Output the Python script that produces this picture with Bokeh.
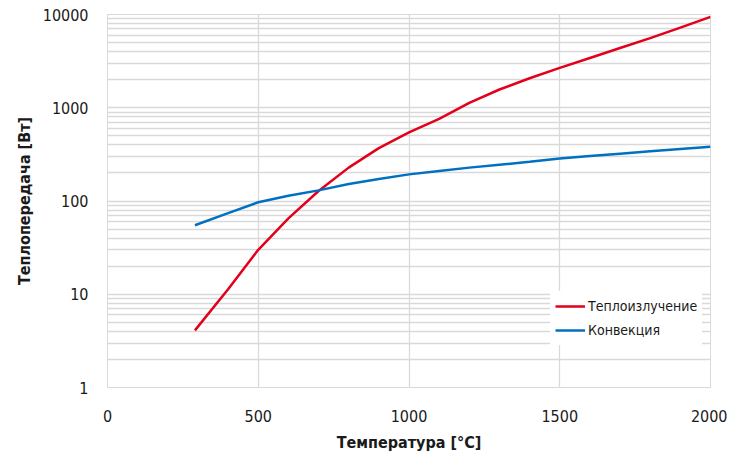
from bokeh.plotting import figure
from bokeh.models import Range1d, FixedTicker, NumeralTickFormatter, Legend, LegendItem
from bokeh.embed import file_html
from bokeh.resources import INLINE

# Data
temp = [290, 400, 500, 600, 700, 800, 900, 1000, 1100, 1200, 1300, 1400,
        1500, 1600, 1700, 1800, 1900, 2000]
radiation = [4.1, 11.3, 30, 65, 128, 228, 369, 545, 760, 1130, 1570, 2070,
             2680, 3420, 4370, 5580, 7240, 9440]
convection = [55, 74, 97, 114, 130, 152, 172, 193, 210, 228, 245, 263,
              285, 303, 322, 342, 362, 381]
x_ticks = [0, 500, 1000, 1500, 2000]
y_ticks = [1, 10, 100, 1000, 10000]
y_minor = [m * 10 ** k for k in range(4) for m in range(2, 10)]

series_names = ["Теплоизлучение", "Конвекция"]
x_title = "Температура [°C]"
y_title = "Теплопередача [Вт]"

FONT = "DejaVu Sans Condensed"
GRID = "#d9d9d9"
TEXT = "#1a1a1a"

p = figure(width=727, height=454, y_axis_type="log",
           x_range=Range1d(0, 2000), y_range=Range1d(1, 10000),
           output_backend="svg", toolbar_location=None,
           min_border_left=107, min_border_right=17,
           min_border_top=14, min_border_bottom=67)

p.outline_line_color = GRID
p.outline_line_width = 1

# grids
p.xgrid.ticker = FixedTicker(ticks=x_ticks)
p.ygrid.ticker = FixedTicker(ticks=y_ticks, minor_ticks=y_minor)
p.xgrid.grid_line_color = GRID
p.ygrid.grid_line_color = GRID
p.ygrid.minor_grid_line_color = GRID
p.xgrid.grid_line_width = 1.3
p.ygrid.grid_line_width = 1.3
p.ygrid.minor_grid_line_width = 1.3

# axes
p.xaxis.ticker = FixedTicker(ticks=x_ticks)
p.yaxis.ticker = FixedTicker(ticks=y_ticks, minor_ticks=y_minor)
p.yaxis.formatter = NumeralTickFormatter(format="0")
for ax in (p.xaxis, p.yaxis):
    ax.axis_line_color = GRID
    ax.major_tick_line_color = None
    ax.minor_tick_line_color = None
    ax.major_tick_out = 0
    ax.minor_tick_out = 0
    ax.major_label_text_font = FONT
    ax.major_label_text_font_size = "16px"
    ax.major_label_text_color = TEXT
    ax.axis_label_text_font = FONT
    ax.axis_label_text_font_size = "16px"
    ax.axis_label_text_font_style = "bold"
    ax.axis_label_text_color = TEXT
p.xaxis.axis_label = x_title
p.yaxis.axis_label = y_title
p.xaxis.major_label_standoff = 22
p.yaxis.major_label_standoff = 19
p.xaxis.axis_label_standoff = 8
p.yaxis.axis_label_standoff = 6

r1 = p.line(temp, radiation, line_color="#e3001b", line_width=2.5)
r2 = p.line(temp, convection, line_color="#0070c0", line_width=2.5)

legend = Legend(items=[LegendItem(label=series_names[0], renderers=[r1]),
                       LegendItem(label=series_names[1], renderers=[r2])],
                location=(443, 42))
legend.background_fill_color = "white"
legend.background_fill_alpha = 1
legend.border_line_alpha = 0
legend.label_text_font = FONT
legend.label_text_font_size = "14px"
legend.label_text_color = TEXT
legend.glyph_width = 30
legend.glyph_height = 20
legend.label_height = 20
legend.spacing = 4
legend.padding = 5
legend.margin = 0
legend.label_standoff = 3
p.add_layout(legend, "center")

open("out.html", "w").write(file_html(p, INLINE))
